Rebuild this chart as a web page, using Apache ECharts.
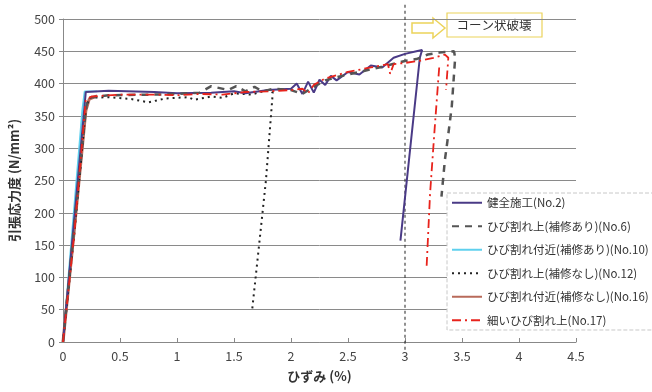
<!DOCTYPE html>
<html>
<head>
<meta charset="utf-8">
<script src="https://cdn.jsdelivr.net/npm/echarts@6/dist/echarts.min.js"></script>
<style>
  html, body { margin: 0; padding: 0; background: #fff; }
  #chart { width: 652px; height: 392px; }
</style>
</head>
<body>
<div id="chart"></div>
<script>
// 凡例名
var seriesNames = ['健全施工(No.2)', 'ひび割れ上(補修あり)(No.6)', 'ひび割れ付近(補修あり)(No.10)',
    'ひび割れ上(補修なし)(No.12)', 'ひび割れ付近(補修なし)(No.16)', '細いひび割れ上(No.17)'];

// [ひずみ(%), 応力(N/mm2)]
var no2 = [[0, 0], [0.2, 387], [0.4, 389], [0.8, 387], [1.0, 385], [1.3, 386], [1.5, 388], [1.6, 385],
    [1.8, 390], [2.0, 392], [2.05, 400], [2.1, 384], [2.15, 403], [2.2, 386], [2.25, 406], [2.3, 398],
    [2.35, 412], [2.4, 405], [2.5, 418], [2.6, 414], [2.7, 428], [2.8, 425], [2.9, 440], [3.0, 446],
    [3.1, 450], [3.15, 452], [3.13, 440], [2.96, 157]];
var no6 = [[0, 0], [0.1, 180], [0.2, 360], [0.22, 378], [0.4, 382], [0.8, 383], [1.0, 384], [1.2, 386],
    [1.3, 396], [1.45, 390], [1.52, 396], [1.6, 388], [1.68, 395], [1.75, 388], [1.85, 392], [2.0, 390],
    [2.1, 384], [2.2, 395], [2.3, 405], [2.4, 410], [2.6, 418], [2.8, 426], [3.0, 435], [3.1, 438],
    [3.2, 445], [3.3, 448], [3.43, 450], [3.44, 440], [3.41, 364], [3.37, 308], [3.35, 282], [3.32, 225]];
var no10 = [[0, 0], [0.17, 360], [0.19, 388], [0.3, 388]];
var no12 = [[0, 0], [0.1, 170], [0.2, 360], [0.23, 378], [0.4, 379], [0.6, 376], [0.75, 371], [0.9, 377],
    [1.1, 379], [1.15, 375], [1.3, 380], [1.4, 378], [1.5, 385], [1.65, 383], [1.8, 390], [1.84, 386],
    [1.78, 250], [1.72, 150], [1.66, 51]];
var no16 = [[0, 0], [0.1, 175], [0.2, 358], [0.23, 376], [0.3, 381]];
var no17 = [[0, 0], [0.1, 170], [0.2, 375], [0.25, 380], [0.5, 383], [0.8, 383], [1.0, 382], [1.2, 384],
    [1.4, 383], [1.6, 387], [1.8, 388], [2.0, 390], [2.1, 392], [2.15, 385], [2.2, 398], [2.3, 408],
    [2.5, 418], [2.7, 425], [2.85, 430], [2.87, 415], [2.9, 430], [3.0, 432], [3.15, 436], [3.25, 440],
    [3.35, 445], [3.38, 440], [3.36, 390], '-', [3.3, 425], [3.26, 330], [3.22, 230], [3.19, 118]];

// x = 3 の破線
var refLine = [[3, -12], [3, 522]];

var font = '"Noto Sans CJK JP", "Noto Sans", sans-serif';

function lineSeries(name, data, color, width, type, z) {
    return {
        name: name,
        type: 'line',
        data: data,
        showSymbol: false,
        symbol: 'none',
        z: z,
        lineStyle: {color: color, width: width, type: type},
        itemStyle: {color: color}
    };
}

var chart = echarts.init(document.getElementById('chart'));

var option = {
    animation: false,
    textStyle: {fontFamily: font},
    grid: {left: 63, right: 76, top: 19, bottom: 50},
    legend: {
        orient: 'vertical',
        left: 447,
        top: 193,
        padding: [4, 6, 4, 4],
        itemWidth: 30,
        itemHeight: 12,
        itemGap: 12,
        backgroundColor: '#fff',
        borderColor: '#c8c8c8',
        borderWidth: 1,
        borderType: 'dashed',
        itemStyle: {opacity: 0},
        textStyle: {fontSize: 11.5, color: '#333', fontFamily: font},
        data: seriesNames
    },
    xAxis: {
        type: 'value',
        min: 0,
        max: 4.5,
        interval: 0.5,
        name: 'ひずみ (%)',
        nameLocation: 'middle',
        nameGap: 28,
        nameTextStyle: {fontSize: 13, fontWeight: 'bold', color: '#333'},
        axisLine: {lineStyle: {color: '#888'}},
        axisTick: {inside: true, length: 4, lineStyle: {color: '#888'}},
        axisLabel: {fontSize: 12.5, color: '#444', margin: 8},
        splitLine: {show: false}
    },
    yAxis: {
        type: 'value',
        min: 0,
        max: 500,
        interval: 50,
        name: '引張応力度 (N/mm²)',
        nameLocation: 'middle',
        nameGap: 42,
        nameTextStyle: {fontSize: 13, fontWeight: 'bold', color: '#333'},
        axisLine: {show: true, lineStyle: {color: '#888'}},
        axisTick: {show: true, inside: false, length: 4, lineStyle: {color: '#888'}},
        axisLabel: {fontSize: 12.5, color: '#444', margin: 8},
        splitLine: {lineStyle: {color: '#8a8a8a', width: 1}}
    },
    series: [
        lineSeries(seriesNames[0], no2, '#4a3a86', 2, 'solid', 6),
        lineSeries(seriesNames[1], no6, '#555555', 2.5, [7, 6], 7),
        lineSeries(seriesNames[2], no10, '#5fd0ee', 1.8, 'solid', 3),
        lineSeries(seriesNames[3], no12, '#222222', 2, [2, 4], 5),
        lineSeries(seriesNames[4], no16, '#b86a5a', 3, 'solid', 4),
        lineSeries(seriesNames[5], no17, '#e8231c', 1.8, [9, 4, 2, 4], 8),
        {
            type: 'line',
            data: refLine,
            showSymbol: false,
            symbol: 'none',
            clip: false,
            silent: true,
            z: 2,
            lineStyle: {color: '#222', width: 1, type: [3, 3]}
        }
    ],
    graphic: [
        {
            type: 'polygon',
            shape: {points: [[412, 23], [433, 23], [433, 18], [445, 28], [433, 38], [433, 33], [412, 33]]},
            style: {fill: '#fff', stroke: '#ecd35a', lineWidth: 1.5}
        },
        {
            type: 'rect',
            shape: {x: 447, y: 13, width: 95, height: 24},
            style: {fill: '#fff', stroke: '#ecd35a', lineWidth: 1.2}
        },
        {
            type: 'text',
            x: 494,
            y: 25,
            style: {text: 'コーン状破壊', fontSize: 12.5, fill: '#333', fontFamily: font,
                align: 'center', verticalAlign: 'middle'}
        }
    ]
};

chart.setOption(option);
</script>
</body>
</html>
